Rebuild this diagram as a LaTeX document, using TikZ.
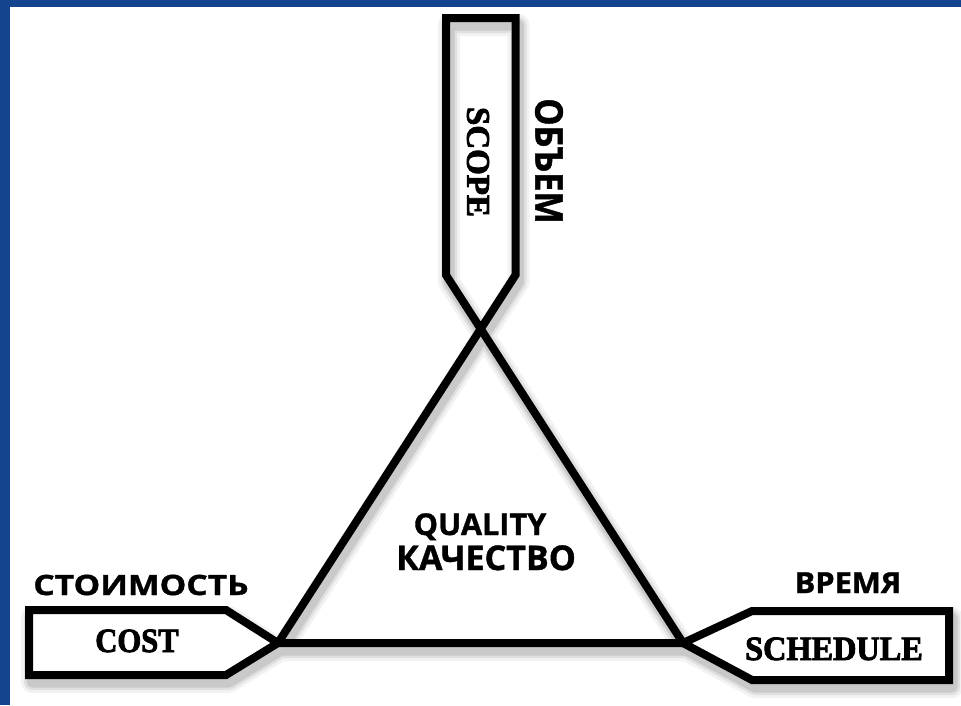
\documentclass[tikz,border=0pt]{standalone}
\usepackage{fontspec}
\setmainfont{Open Sans}
\newfontfamily\rufont{Open Sans}[BoldFeatures={FakeBold=1.2}]
\newfontfamily\stampfont{Liberation Serif}[BoldFeatures={FakeBold=2.5}]

\definecolor{slideblue}{RGB}{20,68,142}

\tikzset{
  outline/.style={line width=8pt, line join=miter, black},
  ru label/.style={font=\rufont\bfseries\fontsize{28}{30}\selectfont, anchor=base, inner sep=0pt},
  en label/.style={font=\stampfont\bfseries\fontsize{34}{36}\selectfont, anchor=base, inner sep=0pt},
}
\newcommand\stretchby[1]{\addfontfeatures{FakeStretch=#1}}

\begin{document}
\begin{tikzpicture}[x=1pt, y=-1pt]
    \useasboundingbox (0,0) rectangle (961,705);
    \fill[slideblue] (0,0) rectangle (961,705);
    \fill[white] (10,7) rectangle (961,705);

    % soft shadow under all outlines
    \foreach \w/\o in {22/0.05, 16/0.07, 11/0.10} {
        \draw[line width=\w pt, black, opacity=\o, line join=round, shift={(3,7)}]
            (683,643) -- (446,275) -- (446,18) -- (515.5,18) -- (515.5,275) -- (278,643) -- cycle
            (278,643) -- (226,610) -- (29,610) -- (29,675) -- (226,675) -- cycle
            (683,643) -- (752,611) -- (949,611) -- (949,680) -- (752,680) -- cycle;
    }

    % scope tag, its sides run on into the triangle
    \draw[outline] (683,643) -- (446,275) -- (446,18) -- (515.5,18) -- (515.5,275) -- (278,643) -- cycle;

    % cost and schedule tags
    \filldraw[outline, fill=white] (278,643) -- (226,610) -- (29,610) -- (29,675) -- (226,675) -- cycle;
    \filldraw[outline, fill=white] (683,643) -- (752,611) -- (949,611) -- (949,680) -- (752,680) -- cycle;

    \node[en label, anchor=center, rotate=-90, font=\stampfont\bfseries\fontsize{33}{35}\selectfont] (scope) at (478,162) {SCOPE};
    \node[ru label, anchor=center, rotate=-90, font=\rufont\bfseries\fontsize{38}{40}\selectfont\stretchby{0.9}] (obem) at (549,161) {ОБЪЕМ};

    \node[ru label, font=\rufont\bfseries\fontsize{28}{30}\selectfont\stretchby{1.2}] (stoim) at (141,595) {СТОИМОСТЬ};
    \node[en label, font=\stampfont\bfseries\fontsize{34}{36}\selectfont\stretchby{0.9}] (cost) at (137,652) {COST};

    \node[ru label, font=\rufont\bfseries\fontsize{29}{31}\selectfont\stretchby{1.06}] (vremya) at (848,593) {ВРЕМЯ};
    \node[en label, font=\stampfont\bfseries\fontsize{34}{36}\selectfont\stretchby{0.95}] (sched) at (834,660) {SCHEDULE};

    \node[ru label, font=\rufont\bfseries\fontsize{30}{32}\selectfont\stretchby{1.02}] (quality) at (480,535) {QUALITY};
    \node[ru label, font=\rufont\bfseries\fontsize{34}{36}\selectfont] (kach) at (486,570) {КАЧЕСТВО};
\end{tikzpicture}
\end{document}
